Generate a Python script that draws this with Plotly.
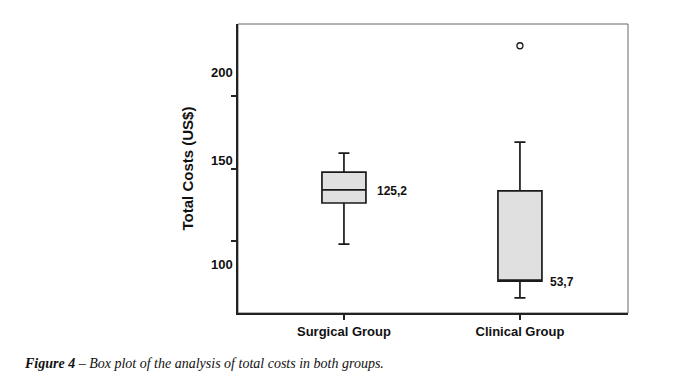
import plotly.graph_objects as go

groups = ["Surgical Group", "Clinical Group"]
q1 = [132.1, 91.5]
median = [138.9, 91.5]
q3 = [148.1, 138.4]
lower_whisker = [110.8, 82.8]
upper_whisker = [158.0, 163.7]
outlier_group = ["Clinical Group"]
outlier_value = [213.7]
median_labels = ["125,2", "53,7"]
ytick_label_pos = [200, 154, 100]
ytick_label_text = ["200", "150", "100"]
ytick_mark_pos = [112.5, 150, 187.5]

FONT = "Liberation Sans, Arial"

fig = go.Figure()
fig.add_trace(go.Box(
    x=groups, q1=q1, median=median, q3=q3,
    lowerfence=lower_whisker, upperfence=upper_whisker,
    fillcolor="#e0e0e0", line=dict(color="#1a1a1a", width=1.7),
    width=0.25, whiskerwidth=0.25, boxpoints=False, showlegend=False,
    hoverinfo="skip",
))
fig.add_trace(go.Scatter(
    x=outlier_group, y=outlier_value, mode="markers",
    marker=dict(symbol="circle-open", size=6, color="#1a1a1a", line=dict(width=1.3)),
    showlegend=False, hoverinfo="skip",
))
for g, m, t, dx in zip(groups, median, median_labels, [31, 28]):
    fig.add_annotation(x=g, y=m, text="<b>" + t + "</b>", showarrow=False, xanchor="left",
                       xshift=dx, yshift=-1,
                       font=dict(family=FONT, size=12, color="#111"))
for v, t in zip(ytick_label_pos, ytick_label_text):
    fig.add_annotation(xref="paper", x=0, y=v, text="<b>" + t + "</b>", showarrow=False,
                       xanchor="right", xshift=-3,
                       font=dict(family=FONT, size=13, color="#111"))

fig.add_shape(type="rect", xref="paper", yref="paper", x0=0, x1=1, y0=0, y1=1,
              line=dict(color="#666", width=1), layer="below")

fig.update_layout(
    width=679, height=379,
    margin=dict(l=230, r=59, t=16, b=74, autoexpand=False),
    paper_bgcolor="white", plot_bgcolor="white",
    font=dict(family=FONT, color="#111"),
    xaxis=dict(
        type="category", range=[-0.602, 1.614], showgrid=False, zeroline=False,
        showline=True, linecolor="#222", linewidth=2,
        ticks="outside", ticklen=5, tickcolor="#222", tickwidth=1.5,
        tickvals=groups, ticktext=["<b>" + g + "</b>" for g in groups],
        tickfont=dict(size=13, family=FONT),
        ticklabelstandoff=0,
    ),
    yaxis=dict(
        range=[75, 225], showgrid=False, zeroline=False,
        showline=True, linecolor="#222", linewidth=2,
        ticks="outside", ticklen=5, tickcolor="#222", tickwidth=1.5,
        tickvals=ytick_mark_pos, showticklabels=False,
        title=dict(text="<b>Total Costs (US$)</b>", font=dict(size=15), standoff=34),
    ),
)

fig.add_annotation(
    xref="paper", yref="paper", x=-0.554, y=-0.176, xanchor="left", yanchor="middle",
    showarrow=False,
    text="<b><i>Figure 4</i></b><i> – Box plot of the analysis of total costs in both groups.</i>",
    font=dict(family="Liberation Serif, Times New Roman", size=14, color="#111"),
)

fig.write_html("out.html")
